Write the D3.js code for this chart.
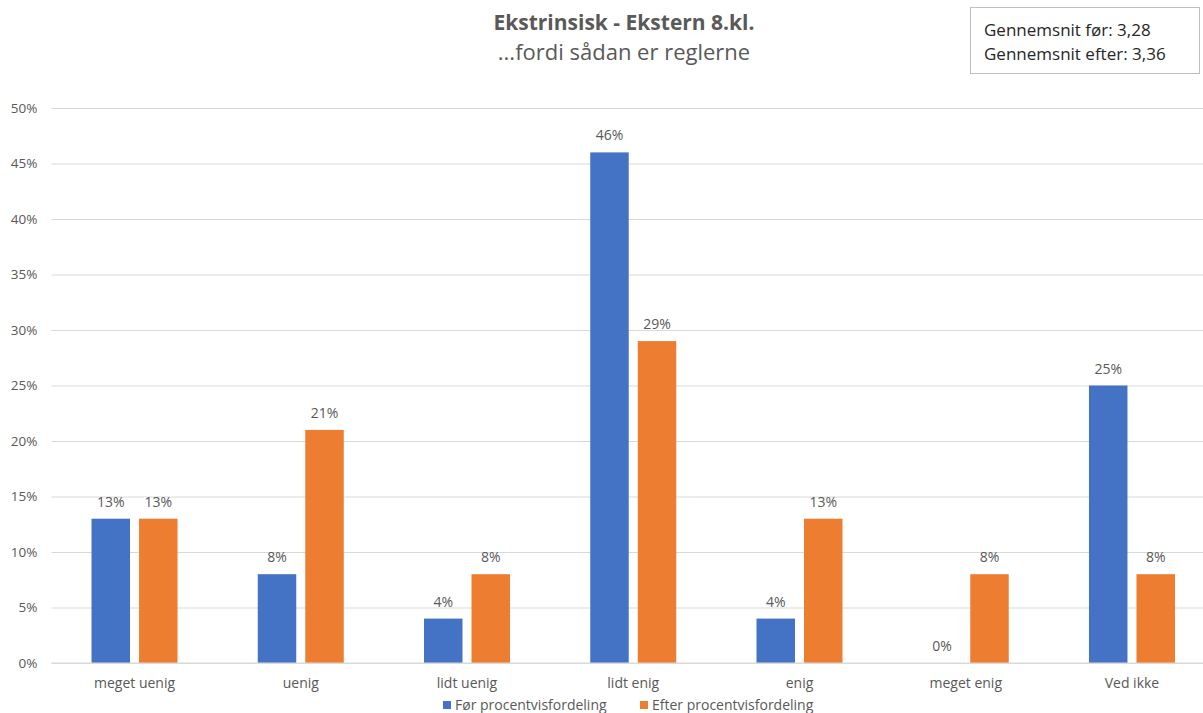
<!DOCTYPE html>
<html>
<head>
<meta charset="utf-8">
<script src="https://cdn.jsdelivr.net/npm/d3@7/dist/d3.min.js"></script>
<style>
  html, body { margin: 0; padding: 0; background: #fff; }
  svg { display: block; font-family: "Open Sans", "Noto Sans", sans-serif; }
</style>
</head>
<body>
<svg id="chart" width="1203" height="713"></svg>
<script>
const categories = ["meget uenig", "uenig", "lidt uenig", "lidt enig", "enig", "meget enig", "Ved ikke"];
const foerValues = [13, 8, 4, 46, 4, 0, 25];
const efterValues = [13, 21, 8, 29, 13, 8, 8];
const yTicks = [0, 5, 10, 15, 20, 25, 30, 35, 40, 45, 50];
const seriesNames = ["Før procentvisfordeling", "Efter procentvisfordeling"];
const seriesColors = ["#4472C4", "#ED7D31"];
const titleText = "Ekstrinsisk - Ekstern 8.kl.";
const subtitleText = "...fordi sådan er reglerne";
const infoLines = ["Gennemsnit før: 3,28", "Gennemsnit efter: 3,36"];

const svg = d3.select("#chart");
const textColor = "#595959";

const plot = { left: 51.4, right: 1215.1, top: 108, bottom: 663 };

const x = d3.scaleBand().domain(categories).range([plot.left, plot.right]).paddingInner(0).paddingOuter(0);
const sub = d3.scaleBand().domain([0, 1]).range([0, 86]).paddingInner(0.19);
const y = d3.scaleLinear().domain([0, 50]).range([plot.bottom, plot.top]);

// gridlines
const gridAxis = d3.axisLeft(y).tickValues(yTicks).tickSize(-(plot.right - plot.left)).tickFormat("");
const grid = svg.append("g").attr("transform", `translate(${plot.left},0)`).call(gridAxis);
grid.select(".domain").remove();
grid.selectAll(".tick line").attr("stroke", "#d9d9d9").attr("stroke-width", 1);

// y labels
const yAxis = d3.axisLeft(y).tickValues(yTicks).tickSize(0).tickPadding(14).tickFormat(d => d + "%");
const yg = svg.append("g").attr("transform", `translate(${plot.left},0)`).call(yAxis);
yg.select(".domain").remove();
yg.selectAll("text").attr("fill", textColor).style("font-size", "13.5px").attr("font-family", "Open Sans, sans-serif");

// bars
const series = [foerValues, efterValues];
series.forEach((vals, si) => {
  const g = svg.append("g");
  const offset = d => x(d) + x.bandwidth() / 2 - 43 + sub(si);
  g.selectAll("rect").data(categories).join("rect")
    .attr("x", d => offset(d))
    .attr("width", sub.bandwidth())
    .attr("y", (d, i) => y(vals[i]))
    .attr("height", (d, i) => y(0) - y(vals[i]))
    .attr("fill", seriesColors[si]);
  g.selectAll("text").data(categories).join("text")
    .attr("x", d => offset(d) + sub.bandwidth() / 2)
    .attr("y", (d, i) => y(vals[i]) - 12)
    .attr("text-anchor", "middle")
    .attr("fill", textColor)
    .style("font-size", "14px")
    .text((d, i) => vals[i] + "%");
});

// x axis line & labels
svg.append("line").attr("x1", plot.left).attr("x2", plot.right)
  .attr("y1", y(0)).attr("y2", y(0)).attr("stroke", "#d9d9d9");
const xAxis = d3.axisBottom(x).tickSize(0).tickPadding(15);
const xg = svg.append("g").attr("transform", `translate(0,${plot.bottom})`).call(xAxis);
xg.select(".domain").remove();
xg.selectAll("text").attr("fill", textColor).style("font-size", "14px").attr("font-family", "Open Sans, sans-serif");

// title
svg.append("text").attr("x", 624).attr("y", 30).attr("text-anchor", "middle")
  .attr("fill", textColor).style("font-size", "21px").style("font-weight", "bold").text(titleText);
svg.append("text").attr("x", 624).attr("y", 60).attr("text-anchor", "middle")
  .attr("fill", textColor).style("font-size", "22px").text(subtitleText);

// info box
svg.append("rect").attr("x", 970.5).attr("y", 7.5).attr("width", 229).attr("height", 66)
  .attr("fill", "#fff").attr("stroke", "#bfbfbf");
infoLines.forEach((t, i) => {
  svg.append("text").attr("x", 984).attr("y", 36 + i * 24)
    .attr("fill", "#262626").style("font-size", "17px").text(t);
});

// legend
const legendX = [443, 640];
seriesNames.forEach((name, i) => {
  svg.append("rect").attr("x", legendX[i]).attr("y", 701).attr("width", 8).attr("height", 8).attr("fill", seriesColors[i]);
  svg.append("text").attr("x", legendX[i] + 12).attr("y", 710)
    .attr("fill", textColor).style("font-size", "14px").text(name);
});
</script>
</body>
</html>
